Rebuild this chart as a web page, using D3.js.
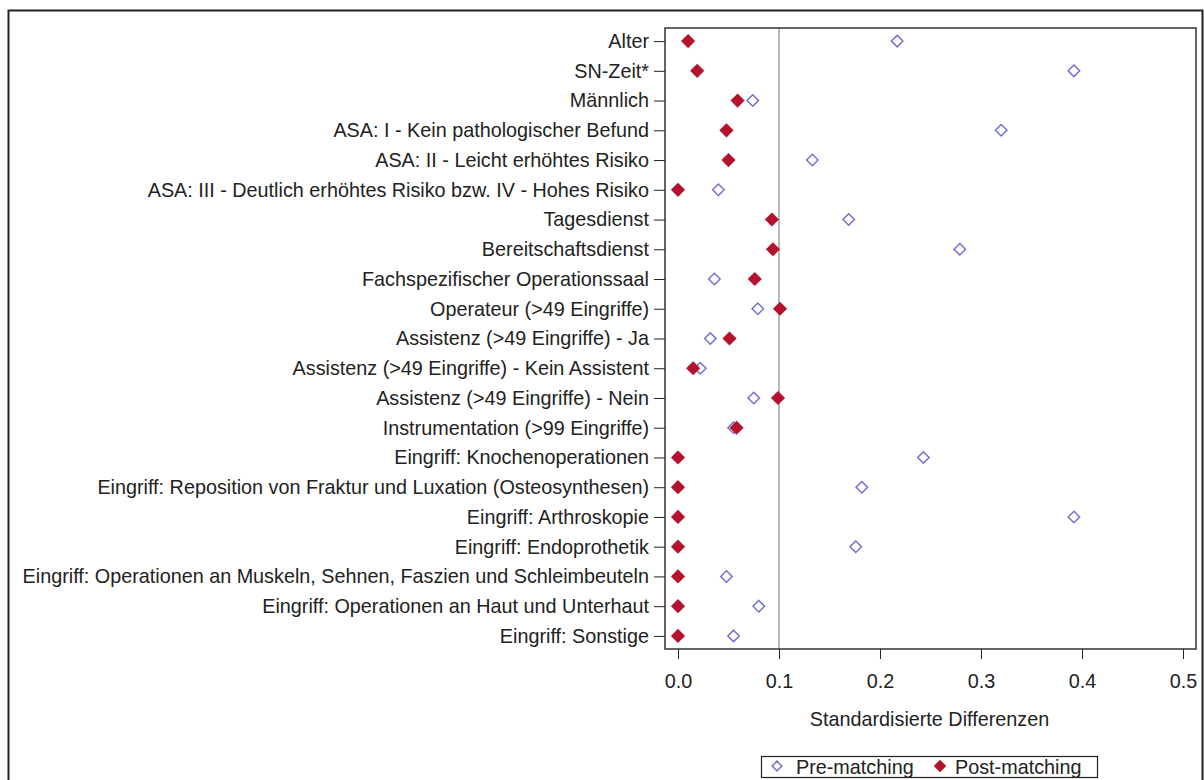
<!DOCTYPE html>
<html>
<head>
<meta charset="utf-8">
<script src="https://cdn.jsdelivr.net/npm/d3@7"></script>
<style>
  body { margin: 0; background: #fff; }
  text { font-family: "Liberation Sans", Arial, sans-serif; fill: #222; }
</style>
</head>
<body>
<svg width="1204" height="780"></svg>
<script>
// variables (top to bottom)
var labels = [
  "Alter",
  "SN-Zeit*",
  "Männlich",
  "ASA: I - Kein pathologischer Befund",
  "ASA: II - Leicht erhöhtes Risiko",
  "ASA: III - Deutlich erhöhtes Risiko bzw. IV - Hohes Risiko",
  "Tagesdienst",
  "Bereitschaftsdienst",
  "Fachspezifischer Operationssaal",
  "Operateur (>49 Eingriffe)",
  "Assistenz (>49 Eingriffe) - Ja",
  "Assistenz (>49 Eingriffe) - Kein Assistent",
  "Assistenz (>49 Eingriffe) - Nein",
  "Instrumentation (>99 Eingriffe)",
  "Eingriff: Knochenoperationen",
  "Eingriff: Reposition von Fraktur und Luxation (Osteosynthesen)",
  "Eingriff: Arthroskopie",
  "Eingriff: Endoprothetik",
  "Eingriff: Operationen an Muskeln, Sehnen, Faszien und Schleimbeuteln",
  "Eingriff: Operationen an Haut und Unterhaut",
  "Eingriff: Sonstige"
];
var preMatching = [0.217, 0.392, 0.074, 0.320, 0.133, 0.040, 0.169, 0.279, 0.036, 0.079,
                   0.032, 0.022, 0.075, 0.055, 0.243, 0.182, 0.392, 0.176, 0.048, 0.080, 0.055];
var postMatching = [0.010, 0.019, 0.059, 0.048, 0.050, 0.000, 0.093, 0.094, 0.076, 0.101,
                    0.051, 0.015, 0.099, 0.058, 0.000, 0.000, 0.000, 0.000, 0.000, 0.000, 0.000];
var xTicks = [0, 0.1, 0.2, 0.3, 0.4, 0.5];
var refLine = 0.1;

var svg = d3.select("svg");
var pLeft = 665, pRight = 1196, pTop = 28, pBottom = 649;
var fontSize = "19.8px";

var x = d3.scaleLinear().domain([-0.01287, 0.51287]).range([pLeft, pRight]);
var y = d3.scalePoint().domain(labels).range([pTop, pBottom]).padding(0.44);

var preColor = "#7272cc", postColor = "#b5122d";

// outer border
svg.append("rect")
  .attr("x", 8.5).attr("y", 10.5).attr("width", 1194).attr("height", 790)
  .attr("fill", "none").attr("stroke", "#222").attr("stroke-width", 2);

// reference line
svg.append("line")
  .attr("x1", x(refLine)).attr("x2", x(refLine))
  .attr("y1", pTop).attr("y2", pBottom)
  .attr("stroke", "#888").attr("stroke-width", 1.2);

// axes
var yAxis = svg.append("g")
  .attr("transform", "translate(" + pLeft + ",0)")
  .call(d3.axisLeft(y).tickSize(11).tickPadding(5));
yAxis.select(".domain").remove();
yAxis.selectAll("text").style("font-size", fontSize);
yAxis.selectAll("line").attr("stroke", "#222");

var xAxis = svg.append("g")
  .attr("transform", "translate(0," + pBottom + ")")
  .call(d3.axisBottom(x).tickValues(xTicks).tickFormat(d3.format(".1f")).tickSize(10).tickPadding(15));
xAxis.select(".domain").remove();
xAxis.selectAll("text").style("font-size", fontSize);
xAxis.selectAll("line").attr("stroke", "#222");

// plot frame
svg.append("rect")
  .attr("x", pLeft).attr("y", pTop).attr("width", pRight - pLeft).attr("height", pBottom - pTop)
  .attr("fill", "none").attr("stroke", "#333").attr("stroke-width", 1.5);

svg.append("text")
  .attr("x", (pLeft + pRight) / 2 - 1).attr("y", 726)
  .attr("text-anchor", "middle").style("font-size", fontSize)
  .text("Standardisierte Differenzen");

var diamond = d3.symbol().type(d3.symbolDiamond2);

svg.append("g").selectAll("path")
  .data(preMatching)
  .enter().append("path")
  .attr("d", diamond.size(84))
  .attr("transform", function(d, i) { return "translate(" + x(d) + "," + y(labels[i]) + ")"; })
  .attr("fill", "none").attr("stroke", preColor).attr("stroke-width", 1.5);

svg.append("g").selectAll("path")
  .data(postMatching)
  .enter().append("path")
  .attr("d", diamond.size(128))
  .attr("transform", function(d, i) { return "translate(" + x(d) + "," + y(labels[i]) + ")"; })
  .attr("fill", postColor);

// legend
var lg = svg.append("g");
lg.append("rect")
  .attr("x", 761.5).attr("y", 756.5).attr("width", 336).attr("height", 21)
  .attr("fill", "#fff").attr("stroke", "#222").attr("stroke-width", 1.2);
lg.append("path").attr("d", diamond.size(60))
  .attr("transform", "translate(777,766)")
  .attr("fill", "none").attr("stroke", preColor).attr("stroke-width", 1.5);
lg.append("text").attr("x", 796).attr("y", 774).style("font-size", fontSize).text("Pre-matching");
lg.append("path").attr("d", diamond.size(100))
  .attr("transform", "translate(940,766)")
  .attr("fill", postColor);
lg.append("text").attr("x", 955).attr("y", 774).style("font-size", fontSize).text("Post-matching");
</script>
</body>
</html>
